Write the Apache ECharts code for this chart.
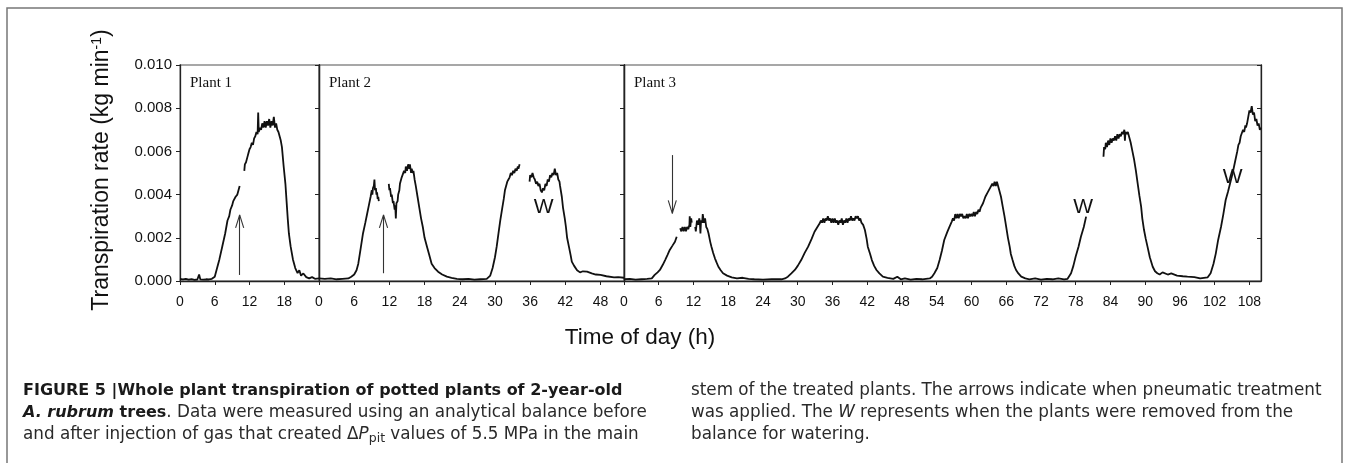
<!DOCTYPE html>
<html><head><meta charset="utf-8">
<script src="https://cdn.jsdelivr.net/npm/echarts@6/dist/echarts.min.js"></script>
<style>html,body{margin:0;padding:0;background:#fff;}#c{width:1348px;height:463px;}</style>
</head><body><div id="c"></div>
<script>
// ---- data: [time (h), transpiration rate (kg min^-1)]; null = gap in record ----
const plant1 = [
[0,0.0001],[0.5,0.00008],[1,0.0001],[1.5,0.00006],[2,0.00009],[2.5,0.00005],[3,0.00007],[3.3,0.0003],[3.5,0.00008],[4,0.00006],[4.5,0.00008],[5,0.00007],[5.5,0.0001],[6,0.0002],[6.3,0.0005],[6.8,0.001],[7.3,0.0016],[7.8,0.0022],[8.2,0.0028],[8.5,0.003],[8.7,0.0033],[9,0.0035],[9.2,0.0037],[9.4,0.0037],[9.6,0.0039],[9.9,0.004],[10.1,0.0042],[10.3,0.0044],[10.7,null],
[11.1,0.0051],[11.2,0.0054],[11.4,0.0055],[11.6,0.0057],[11.8,0.0059],[12,0.0061],[12.2,0.0062],[12.4,0.0064],[12.6,0.0063],[12.8,0.0066],[13,0.0067],[13.2,0.0069],[13.4,0.0068],[13.5,0.0078],[13.6,0.0069],[13.8,0.0071],[14,0.007],[14.2,0.0073],[14.4,0.0071],[14.6,0.0074],[14.8,0.0071],[15,0.0074],[15.2,0.0072],[15.4,0.0075],[15.6,0.0071],[15.8,0.0074],[16,0.0072],[16.2,0.0076],[16.4,0.0071],[16.6,0.0073],[16.8,0.007],[17,0.0069],[17.2,0.0067],[17.4,0.0065],[17.6,0.0062],[17.9,0.0053],[18.2,0.0045],[18.4,0.0037],[18.6,0.0029],[18.8,0.0022],[19.1,0.0016],[19.5,0.001],[19.9,0.0006],[20.3,0.00037],[20.6,0.0005],[20.9,0.00025],[21.3,0.00035],[21.8,0.00018],[22.3,0.00012],[22.8,0.00018],[23.3,0.0001],[24,0.00012]
];
const plant2 = [
[0,0.00012],[1,0.0001],[2,0.00012],[3,0.00008],[4,0.0001],[5,0.00012],[5.5,0.0002],[6,0.0003],[6.4,0.0005],[6.7,0.0008],[7.1,0.0015],[7.5,0.0022],[7.9,0.0027],[8.2,0.0031],[8.5,0.0035],[8.8,0.0039],[9,0.0042],[9.1,0.004],[9.2,0.0043],[9.35,0.0044],[9.45,0.0047],[9.55,0.0042],[9.7,0.0043],[9.8,0.004],[9.9,0.0041],[10,0.0038],[10.1,0.0039],[10.2,0.0037],[11,null],
[11.9,0.0045],[12,0.0042],[12.1,0.0043],[12.3,0.0039],[12.4,0.004],[12.6,0.0036],[12.7,0.0037],[12.9,0.0033],[13,0.0035],[13.1,0.0029],[13.2,0.0036],[13.4,0.0037],[13.5,0.004],[13.7,0.0042],[13.8,0.0045],[14,0.0045],[14.1,0.0048],[14.3,0.0048],[14.5,0.0051],[14.7,0.005],[14.8,0.0053],[15,0.0051],[15.2,0.0054],[15.4,0.0052],[15.5,0.0054],[15.7,0.005],[15.8,0.0052],[16,0.005],[16.1,0.0051],[16.3,0.0047],[16.5,0.0044],[16.8,0.0039],[17.1,0.0034],[17.4,0.0029],[17.7,0.0025],[18,0.002],[18.4,0.0016],[18.8,0.0012],[19.2,0.0008],[19.7,0.0006],[20.3,0.00043],[21,0.0003],[21.8,0.0002],[22.6,0.00015],[23.5,0.0001],[24.5,0.00008],[25.5,0.0001],[26.5,0.00006],[27.5,0.00008],[28.6,0.0001],[29.2,0.00025],[29.6,0.0006],[30,0.0011],[30.3,0.0016],[30.6,0.0022],[30.9,0.0028],[31.2,0.0033],[31.5,0.0038],[31.7,0.0042],[32.1,0.0046],[32.3,0.0047],[32.5,0.0048],[32.7,0.005],[32.9,0.0049],[33.1,0.0051],[33.3,0.005],[33.5,0.0052],[33.7,0.0051],[33.9,0.0053],[34,0.0052],[34.2,0.0054],[35,null],
[35.9,0.0046],[36,0.0049],[36.2,0.0048],[36.4,0.005],[36.6,0.0048],[36.8,0.0047],[37,0.0045],[37.2,0.0046],[37.4,0.0044],[37.6,0.0045],[37.8,0.0042],[38,0.0041],[38.2,0.0043],[38.4,0.0042],[38.6,0.0045],[38.8,0.0044],[39,0.0047],[39.2,0.0046],[39.4,0.0049],[39.6,0.0048],[39.8,0.005],[40,0.0049],[40.2,0.0052],[40.4,0.0049],[40.6,0.005],[40.8,0.0047],[41,0.0046],[41.1,0.0044],[41.4,0.0039],[41.6,0.0034],[41.9,0.0029],[42.1,0.0025],[42.3,0.002],[42.6,0.0016],[42.9,0.0012],[43.1,0.0009],[43.5,0.0007],[44,0.0005],[44.5,0.0004],[45,0.00045],[45.7,0.00043],[46.5,0.00035],[47.2,0.0003],[48,0.00028],[49,0.00022],[50.3,0.00017],[51,0.00018],[52,0.00015]
];
const plant3 = [
[0,0.00008],[1,0.0001],[2,0.00006],[3,0.00008],[4,0.0001],[4.8,0.00012],[5.3,0.00028],[5.8,0.0004],[6.2,0.00051],[6.7,0.00075],[7.1,0.00097],[7.5,0.0012],[7.9,0.00144],[8.4,0.00165],[8.8,0.00182],[9.1,0.00205],[9.4,null],
[9.7,0.00244],[9.9,0.0023],[10.1,0.0025],[10.3,0.0023],[10.5,0.0025],[10.7,0.0023],[10.9,0.0025],[11.1,0.0024],[11.3,0.0026],[11.35,0.003],[11.45,0.0025],[11.6,0.0029],[11.7,0.0027],[12,null],
[12.3,0.0025],[12.4,0.0023],[12.6,0.0028],[12.8,0.0026],[13,0.0029],[13.1,0.0027],[13.2,0.0022],[13.3,0.0028],[13.5,0.0027],[13.6,0.0031],[13.8,0.0027],[14,0.0029],[14.2,0.0025],[14.4,0.0024],[14.6,0.0022],[14.9,0.0018],[15.1,0.00159],[15.4,0.0013],[15.7,0.00105],[16,0.00085],[16.3,0.00066],[16.7,0.0005],[17.1,0.00036],[17.8,0.00025],[18.6,0.00017],[19.5,0.00012],[20.5,0.00015],[21.5,0.0001],[22.5,0.00008],[24,0.00006],[25.5,0.00008],[27.2,0.00008],[27.8,0.00012],[28.3,0.0002],[28.9,0.00035],[29.5,0.00051],[30,0.0007],[30.6,0.00097],[31.2,0.0013],[31.8,0.00159],[32.4,0.00195],[32.9,0.00228],[33.4,0.0025],[33.8,0.00267],[34,0.0028],[34.2,0.0027],[34.4,0.0029],[34.6,0.0027],[34.8,0.0029],[35,0.0028],[35.2,0.003],[35.4,0.0028],[35.6,0.0029],[35.8,0.0027],[36,0.0029],[36.2,0.0027],[36.4,0.0029],[36.6,0.0027],[36.8,0.0028],[37,0.0026],[37.2,0.0028],[37.4,0.0027],[37.6,0.0029],[37.8,0.0026],[38,0.0028],[38.2,0.0027],[38.4,0.0029],[38.6,0.0027],[38.8,0.0029],[39,0.0028],[39.2,0.003],[39.4,0.0028],[39.6,0.0029],[39.8,0.0028],[40,0.003],[40.2,0.0029],[40.4,0.003],[40.6,0.0028],[40.8,0.0029],[41,0.0027],[41.3,0.0026],[41.6,0.00236],[41.9,0.00195],[42.1,0.00159],[42.5,0.00125],[42.8,0.00097],[43.2,0.0007],[43.6,0.00051],[44.1,0.00035],[44.7,0.0002],[45.5,0.00015],[46.5,0.0001],[47.2,0.0002],[47.8,0.00008],[48.5,0.00012],[49.5,0.00006],[50.5,0.0001],[51.5,0.00008],[52.8,0.00012],[53.2,0.0002],[53.6,0.00036],[54.1,0.0006],[54.5,0.00097],[54.9,0.0014],[55.3,0.0019],[55.8,0.00225],[56.2,0.00251],[56.6,0.00275],[56.8,0.0029],[57,0.0028],[57.2,0.0031],[57.4,0.0029],[57.6,0.0031],[57.8,0.0029],[58,0.0031],[58.2,0.003],[58.4,0.0031],[58.6,0.0029],[58.8,0.003],[59,0.0029],[59.2,0.0031],[59.4,0.0029],[59.6,0.0031],[59.8,0.003],[60,0.0031],[60.2,0.003],[60.4,0.0032],[60.6,0.003],[60.8,0.0032],[61,0.0031],[61.2,0.0033],[61.4,0.0032],[61.6,0.0034],[61.8,0.0034],[62,0.0036],[62.2,0.0036],[62.4,0.0039],[62.6,0.0039],[62.8,0.0041],[63,0.0041],[63.2,0.0043],[63.4,0.0043],[63.6,0.0045],[63.8,0.0044],[64,0.0046],[64.2,0.0044],[64.4,0.0046],[64.6,0.0044],[64.8,0.0042],[65.1,0.0039],[65.4,0.00344],[65.7,0.003],[66,0.00251],[66.3,0.002],[66.6,0.00159],[66.8,0.00125],[67.1,0.00097],[67.4,0.0007],[67.7,0.00051],[68.1,0.00035],[68.6,0.0002],[69.3,0.00012],[70,0.00008],[71,0.00012],[72,0.00006],[73,0.0001],[74,0.00008],[75,0.00012],[76,0.00007],[76.6,0.0001],[77.2,0.00036],[77.6,0.0007],[78,0.00113],[78.5,0.0016],[78.9,0.00205],[79.4,0.0025],[79.8,0.00298],[81,null],
[82.8,0.00575],[82.9,0.0062],[83.1,0.0061],[83.2,0.0064],[83.4,0.0062],[83.6,0.0065],[83.8,0.0063],[84,0.0066],[84.2,0.0064],[84.4,0.0066],[84.6,0.0065],[84.8,0.0067],[85,0.0065],[85.2,0.0068],[85.4,0.0066],[85.6,0.0068],[85.8,0.0067],[86,0.0069],[86.2,0.0068],[86.4,0.007],[86.5,0.0065],[86.6,0.0069],[86.8,0.0068],[87,0.0069],[87.2,0.0067],[87.4,0.0065],[87.5,0.0064],[87.8,0.006],[88.1,0.0056],[88.4,0.0051],[88.7,0.00452],[89,0.00395],[89.3,0.00344],[89.5,0.0029],[89.8,0.00236],[90.1,0.00195],[90.4,0.00159],[90.8,0.0011],[91.3,0.00066],[91.7,0.00045],[92.1,0.00036],[92.5,0.0003],[93,0.0004],[93.9,0.0003],[94.5,0.00035],[95.5,0.00025],[96.5,0.00022],[97.3,0.0002],[98.5,0.00018],[99.5,0.00012],[100.8,0.00017],[101.3,0.00036],[101.8,0.0008],[102.2,0.00128],[102.6,0.0019],[103.1,0.00251],[103.5,0.0031],[103.9,0.00375],[104.3,0.00413],[105.1,0.00499],[105.5,0.0055],[105.9,0.006],[106.1,0.0063],[106.3,0.0064],[106.5,0.0067],[106.7,0.0067],[106.9,0.007],[107.1,0.0069],[107.3,0.0072],[107.4,0.0071],[107.6,0.0073],[107.8,0.0076],[108,0.0079],[108.2,0.0078],[108.4,0.0081],[108.6,0.0077],[108.8,0.0078],[109,0.0074],[109.2,0.0075],[109.4,0.0072],[109.6,0.0073],[109.8,0.007],[110,0.0071]
];
// x-axis extents (h) of each panel
const panelMax = [24, 52, 110];
const panelNames = ['Plant 1', 'Plant 2', 'Plant 3'];
// pneumatic-treatment arrows: panel index, time (h), tail value, tip value
const arrowPanel = [0, 1, 2];
const arrowTime = [10.3, 11.0, 8.34];
const arrowTail = [0.00028, 0.00036, 0.00583];
const arrowTip = [0.00306, 0.00306, 0.00313];
// watering marks "W": panel index, time (h), value
const wPanel = [1, 2, 2];
const wTime = [38.3, 79.3, 105.1];
const wValue = [0.00341, 0.00341, 0.0048];

const series = [plant1, plant2, plant3];
const gridBox = [{left:180, width:139}, {left:319, width:305}, {left:624, width:637}];
const TOP = 65, H = 216;
const AX = '#222';
const sans = 'Liberation Sans, Arial, sans-serif';
const cap = 'DejaVu Sans, Verdana, sans-serif';
const CF = 16.8;

const chart = echarts.init(document.getElementById('c'));
const grid = gridBox.map(g => ({left:g.left, width:g.width, top:TOP, height:H, show:true, borderColor:'#8a8a8a', borderWidth:1.3, containLabel:false}));
const xAxis = panelMax.map((m, i) => ({
  type:'value', gridIndex:i, min:0, max:m, interval:6,
  axisLine:{show:true, onZero:false, lineStyle:{color:AX, width:1.3}},
  axisTick:{show:true, length:4, lineStyle:{color:AX}},
  axisLabel:{show:true, fontSize:14, color:'#111', margin:14, fontFamily:sans, showMaxLabel:false},
  splitLine:{show:false}
}));
const yAxis = [];
panelMax.forEach((m, i) => {
  yAxis.push({
    type:'value', gridIndex:i, position:'left', min:0, max:0.01, interval:0.002,
    axisLine:{show:true, onZero:false, lineStyle:{color:AX, width:1.3}},
    axisTick:{show:i===0, length:4, lineStyle:{color:AX}},
    axisLabel:{show:i===0, fontSize:15, color:'#111', margin:8, fontFamily:sans, formatter:v => v.toFixed(3)},
    splitLine:{show:false}
  });
  yAxis.push({
    type:'value', gridIndex:i, position:'right', min:0, max:0.01, interval:0.002,
    axisLine:{show:true, onZero:false, lineStyle:{color:AX, width:1.3}},
    axisTick:{show:true, inside:true, length:4, lineStyle:{color:AX}},
    axisLabel:{show:false}, splitLine:{show:false}
  });
});

const seriesOpt = series.map((d, i) => {
  const ml = [];
  arrowPanel.forEach((p, k) => {
    if (p !== i) return;
    const t = arrowTime[k], tip = arrowTip[k], tail = arrowTail[k];
    const dir = tip > tail ? -1 : 1;
    ml.push([{coord:[t, tail]}, {coord:[t, tip]}]);
    ml.push([{coord:[t - 0.7, tip + dir*0.0006]}, {coord:[t, tip]}]);
    ml.push([{coord:[t + 0.7, tip + dir*0.0006]}, {coord:[t, tip]}]);
  });
  const mp = [];
  wPanel.forEach((p, k) => { if (p === i) mp.push({coord:[wTime[k], wValue[k]], value:'W'}); });
  return {
    type:'line', xAxisIndex:i, yAxisIndex:i*2, data:d, showSymbol:false, symbol:'none',
    connectNulls:false, animation:false,
    lineStyle:{color:'#111', width:1.8},
    markLine:{silent:true, symbol:'none', animation:false, label:{show:false},
      lineStyle:{color:'#333', width:1.1, type:'solid'}, data:ml},
    markPoint:{silent:true, animation:false, symbol:'circle', symbolSize:1, itemStyle:{color:'rgba(0,0,0,0)'},
      label:{show:true, position:'inside', formatter:'W', fontSize:21, color:'#111', fontFamily:sans}, data:mp}
  };
});

const graphic = [
  {type:'rect', shape:{x:7, y:8, width:1335, height:520}, style:{fill:'none', stroke:'#777', lineWidth:1.5}, silent:true},
  {type:'text', x:102, y:170, rotation:Math.PI/2, style:{
    text:'{a|Transpiration rate (kg min}{s|-1}{a|)}', align:'center', verticalAlign:'middle',
    rich:{a:{fontSize:23, fontFamily:sans, fill:'#111'}, s:{fontSize:14, fontFamily:sans, fill:'#111', verticalAlign:'top', padding:[0,0,8,0]}}
  }},
  {type:'text', x:640, y:338, style:{text:'Time of day (h)', fontSize:22.5, fontFamily:sans, fill:'#111', align:'center', verticalAlign:'middle'}},
  // caption
  {type:'text', x:23, y:391, style:{text:'FIGURE 5 |Whole plant transpiration of potted plants of 2-year-old', fontSize:16, fontWeight:'bold', fontFamily:cap, fill:'#1a1a1a', verticalAlign:'middle'}},
  {type:'text', x:23, y:413, style:{text:'{bi|A. rubrum}{b| trees}{n|. Data were measured using an analytical balance before}', verticalAlign:'middle',
    rich:{bi:{fontSize:16, fontWeight:'bold', fontStyle:'italic', fontFamily:cap, fill:'#1a1a1a'}, b:{fontSize:16, fontWeight:'bold', fontFamily:cap, fill:'#1a1a1a'}, n:{fontSize:CF, fontFamily:cap, fill:'#2a2a2a'}}}},
  {type:'text', x:23, y:435, style:{text:'{n|and after injection of gas that created Δ}{i|P}{sub|pit}{n| values of 5.5 MPa in the main}', verticalAlign:'middle',
    rich:{n:{fontSize:CF, fontFamily:cap, fill:'#2a2a2a'}, i:{fontSize:CF, fontStyle:'italic', fontFamily:cap, fill:'#2a2a2a'}, sub:{fontSize:12.5, fontFamily:cap, fill:'#2a2a2a', verticalAlign:'bottom', padding:[8,0,0,0]}}}},
  {type:'text', x:691, y:391, style:{text:'stem of the treated plants. The arrows indicate when pneumatic treatment', fontSize:CF, fontFamily:cap, fill:'#2a2a2a', verticalAlign:'middle'}},
  {type:'text', x:691, y:413, style:{text:'{n|was applied. The }{i|W}{n| represents when the plants were removed from the}', verticalAlign:'middle',
    rich:{n:{fontSize:CF, fontFamily:cap, fill:'#2a2a2a'}, i:{fontSize:CF, fontStyle:'italic', fontFamily:cap, fill:'#2a2a2a'}}}},
  {type:'text', x:691, y:435, style:{text:'balance for watering.', fontSize:CF, fontFamily:cap, fill:'#2a2a2a', verticalAlign:'middle'}}
];
panelNames.forEach((n, i) => {
  graphic.push({type:'text', x:gridBox[i].left + 10, y:83, style:{text:n, fontSize:15, fontFamily:'Liberation Serif, Times New Roman, serif', fill:'#111', verticalAlign:'middle'}});
});

chart.setOption({animation:false, backgroundColor:'#fff', grid, xAxis, yAxis, series:seriesOpt, graphic});
</script></body></html>
